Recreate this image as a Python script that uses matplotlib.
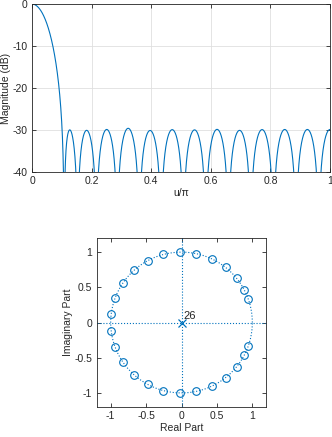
import numpy as np
import matplotlib
matplotlib.use('Agg')
import matplotlib.pyplot as plt

plt.rcParams['font.family'] = ['Liberation Sans', 'DejaVu Sans']
plt.rcParams['font.size'] = 7.5
plt.rcParams['axes.unicode_minus'] = False

# null frequencies (u/pi) of the upper half plane zeros
null_freqs = [0.108, 0.153, 0.216, 0.286, 0.360, 0.433, 0.508,
              0.583, 0.659, 0.734, 0.810, 0.886, 0.962]
n_poles = 26
ylims_db = [-40, 0]
xticks_top = [0, 0.2, 0.4, 0.6, 0.8, 1]
yticks_top = [-40, -30, -20, -10, 0]
xticks_pz = [-1, -0.5, 0, 0.5, 1]
yticks_pz = [-1, -0.5, 0, 0.5, 1]

blue = '#0072BD'
txt = '#262626'

ang = np.pi * np.array(null_freqs)
zeros = np.concatenate([np.exp(1j * ang), np.exp(-1j * ang)])

u = np.linspace(0, 1, 4000)
zz = np.exp(1j * np.pi * u)
H = np.ones_like(zz)
for z0 in zeros:
    H = H * (zz - z0)
H = np.abs(H)
mag = 20 * np.log10(H / H[0] + 1e-12)

fig = plt.figure(figsize=(3.32, 4.37), dpi=100)

ax1 = fig.add_axes([0.0964, 0.6064, 0.8976, 0.3844])
ax1.plot(u, mag, color=blue, linewidth=0.8)
ax1.set_xlim(0, 1)
ax1.set_ylim(ylims_db)
ax1.set_xticks(xticks_top)
ax1.set_xticklabels(['0', '0.2', '0.4', '0.6', '0.8', '1'])
ax1.set_yticks(yticks_top)
ax1.grid(True, color='#DFDFDF', linewidth=0.6)
ax1.set_axisbelow(True)
ax1.set_xlabel('u/\u03c0', color=txt, labelpad=1)
ax1.set_ylabel('Magnitude (dB)', color=txt, labelpad=1)

ax2 = fig.add_axes([0.2907, 0.0686, 0.512, 0.3867])
t = np.linspace(0, 2 * np.pi, 400)
ax2.plot(np.cos(t), np.sin(t), ':', color=blue, linewidth=0.8)
ax2.axhline(0, linestyle=':', color=blue, linewidth=0.8)
ax2.axvline(0, linestyle=':', color=blue, linewidth=0.8)
ax2.plot(zeros.real, zeros.imag, 'o', markerfacecolor='none',
         markeredgecolor=blue, markersize=5.5, markeredgewidth=0.8)
ax2.plot([0], [0], 'x', color=blue, markersize=5.5, markeredgewidth=0.9)
ax2.text(0.03, 0.02, str(n_poles), color=txt, fontsize=8,
         ha='left', va='bottom')
ax2.set_xlim(-1.2, 1.2)
ax2.set_ylim(-1.2, 1.2)
ax2.set_xticks(xticks_pz)
ax2.set_xticklabels(['-1', '-0.5', '0', '0.5', '1'])
ax2.set_yticks(yticks_pz)
ax2.set_yticklabels(['-1', '-0.5', '0', '0.5', '1'])
ax2.set_xlabel('Real Part', color=txt, labelpad=1)
ax2.set_ylabel('Imaginary Part', color=txt, labelpad=1)

for ax in (ax1, ax2):
    for s in ax.spines.values():
        s.set_color(txt)
        s.set_linewidth(0.6)
    ax.tick_params(colors=txt, labelcolor=txt, direction='in', length=3,
                   width=0.6, top=True, right=True, pad=3)

fig.savefig('out.png', dpi=100)
